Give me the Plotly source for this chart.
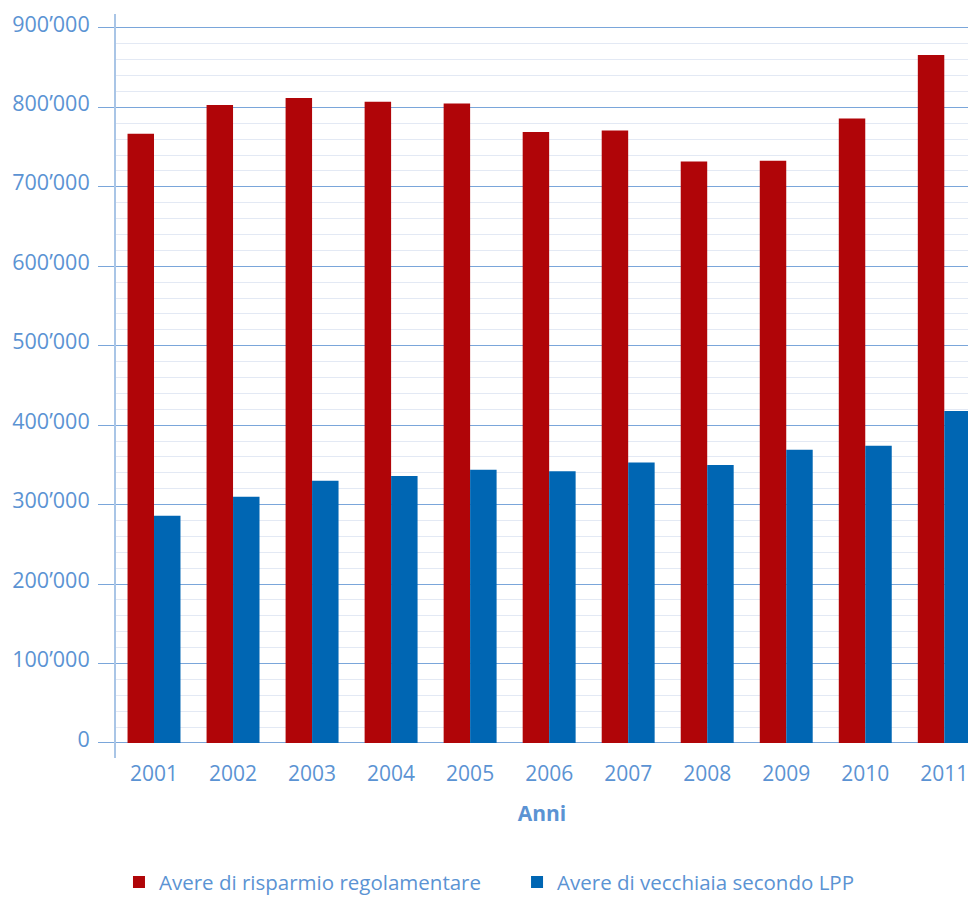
import plotly.graph_objects as go

years = ["2001", "2002", "2003", "2004", "2005", "2006", "2007", "2008", "2009", "2010", "2011"]
avere_regolamentare = [767000, 803000, 812000, 807000, 805000, 769000, 771000, 732000, 733000, 786000, 866000]
avere_lpp = [286000, 310000, 330000, 336000, 344000, 342000, 353000, 350000, 369000, 374000, 418000]
y_tickvals = [0, 100000, 200000, 300000, 400000, 500000, 600000, 700000, 800000, 900000]
y_ticktext = ["0", "100’000", "200’000", "300’000", "400’000", "500’000", "600’000", "700’000", "800’000", "900’000"]

RED = "#b00508"
BLUE = "#0066b3"
TXT = "#5b93d3"
FONT = "Open Sans"

fig = go.Figure()
fig.add_trace(go.Bar(x=list(range(len(years))), y=avere_regolamentare, name="Avere di risparmio regolamentare",
                     marker=dict(color=RED, line=dict(width=0)), legend="legend"))
fig.add_trace(go.Bar(x=list(range(len(years))), y=avere_lpp, name="Avere di vecchiaia secondo LPP",
                     marker=dict(color=BLUE, line=dict(width=0)), legend="legend2"))

leg_font = dict(size=20.5, color=TXT, family=FONT)
fig.update_layout(
    width=968, height=897,
    margin=dict(l=116, r=0, t=14, b=139, autoexpand=False),
    plot_bgcolor="white", paper_bgcolor="white",
    barmode="group", bargap=0.33, bargroupgap=0,
    font=dict(family=FONT, color=TXT, size=21),
    showlegend=True,
    legend=dict(x=0.0035, y=-0.167, xanchor="left", yanchor="middle", font=leg_font, bgcolor="rgba(0,0,0,0)"),
    legend2=dict(x=0.4707, y=-0.167, xanchor="left", yanchor="middle", font=leg_font, bgcolor="rgba(0,0,0,0)"),
    xaxis=dict(
        tickmode="array", tickvals=list(range(len(years))), ticktext=years,
        range=[-0.481, 10.30], showgrid=False, zeroline=False, showline=False,
        ticks="", ticklabelstandoff=1, ticklabeloverflow="allow", automargin=False,
        tickfont=dict(size=21, color=TXT, family=FONT),
        title=dict(text="<b>Anni</b>", font=dict(size=21, color=TXT, family=FONT), standoff=20),
    ),
    yaxis=dict(
        range=[-18900, 917600],
        tickmode="array", tickvals=y_tickvals, ticktext=y_ticktext,
        showgrid=True, gridcolor="#7aa6da", gridwidth=1.3,
        zeroline=False, automargin=False,
        showline=True, linecolor="#a9c5e6", linewidth=2,
        ticks="outside", ticklen=16, tickcolor="#7aa6da", tickwidth=1.3,
        ticklabelstandoff=4, ticklabelshift=-4,
        tickfont=dict(size=21.5, color=TXT, family=FONT),
        minor=dict(dtick=20000, tick0=0, showgrid=True, gridcolor="#e3e9f4", gridwidth=1.3, ticks=""),
    ),
)

fig.write_html("out.html", config={"displayModeBar": False},
               post_script="document.body.style.margin='0';document.body.style.overflow='hidden';")
